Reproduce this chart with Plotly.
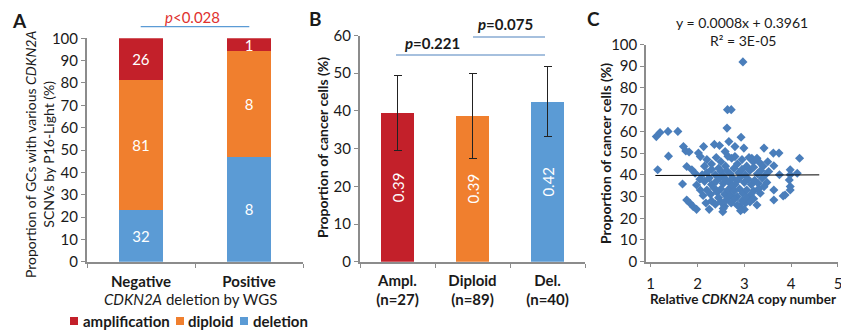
import plotly.graph_objects as go

# ---------------- data ----------------
# Panel A: counts of GCs by CDKN2A SCNV status (P16-Light) per WGS deletion group
groups_A = ["Negative", "Positive"]
amp_counts = [26, 1]
dip_counts = [81, 8]
del_counts = [32, 8]
p_A = "p<0.028"
legend_names = ["amplification", "diploid", "deletion"]

# Panel B: proportion of cancer cells (%) by SCNV group
groups_B = ["Ampl.", "Diploid", "Del."]
n_B = [27, 89, 40]
mean_B = [39.4, 38.7, 42.4]
sd_B = [10.0, 11.3, 9.3]
label_B = ["0.39", "0.39", "0.42"]
p_B = ["0.221", "0.075"]

# Panel C: relative CDKN2A copy number vs proportion of cancer cells (%)
copy_num = [
    1.12, 1.20, 1.37, 1.58, 1.38, 1.15, 1.70, 1.75, 1.82, 2.02, 2.06, 2.13, 2.36, 2.47,
    2.63, 2.64, 2.72, 2.97, 2.67, 2.93, 2.99, 2.80, 2.59, 2.73, 3.16, 3.27,
    3.42, 3.62, 3.74, 4.18, 2.80, 3.19, 3.32, 3.63, 3.98, 1.68,
    1.77, 1.88, 1.95, 1.77, 1.84, 1.91, 1.98, 1.98, 2.06,
    2.25, 2.54, 2.91, 3.02, 3.27, 3.63, 3.83, 3.34,
    3.75, 3.98, 4.13, 3.96, 3.98, 3.98, 3.63, 3.87,
    2.20, 2.30, 2.40, 2.50, 2.60, 2.65, 2.85, 2.95, 3.05, 3.10, 3.40, 3.50, 2.15, 2.45,
    2.20, 2.30, 2.38, 2.50, 2.55, 2.62, 2.70, 2.78, 2.88, 2.95, 3.02, 3.12, 3.20, 3.28, 3.35, 3.45, 3.52, 2.10,
    2.15, 2.25, 2.30, 2.40, 2.48, 2.55, 2.60, 2.68, 2.75, 2.80, 2.86, 2.92, 3.00, 3.08, 3.15, 3.22, 3.30, 3.38, 3.48, 2.05, 2.72,
    2.20, 2.28, 2.35, 2.42, 2.50, 2.58, 2.65, 2.70, 2.78, 2.85, 2.90, 2.97, 3.05, 3.12, 3.20, 3.30, 3.42, 2.12, 2.45,
    2.30, 2.38, 2.50, 2.58, 2.62, 2.72, 2.80, 2.85, 2.95, 3.05, 3.12, 3.20, 2.18, 2.55, 3.00, 2.92,
]
cancer_pct = [
    57.6, 59.5, 60.0, 60.0, 48.6, 42.3, 53.0, 51.0, 50.5, 50.0, 48.4, 53.0, 54.0, 53.5,
    61.5, 70.0, 70.0, 92.0, 55.3, 57.3, 52.3, 53.0, 50.7, 47.6, 47.6, 47.6,
    52.3, 50.0, 50.0, 47.6, 48.4, 46.0, 45.8, 44.2, 42.3, 35.8,
    43.8, 42.3, 40.7, 28.4, 26.9, 25.3, 24.1, 35.3, 33.0,
    24.1, 23.0, 25.3, 26.9, 26.1, 28.4, 30.3, 31.5,
    40.0, 40.0, 40.7, 37.6, 34.6, 33.0, 33.0, 30.7,
    47.0, 45.0, 48.0, 46.0, 44.0, 48.5, 45.0, 47.0, 44.0, 48.0, 44.0, 46.0, 44.0, 43.0,
    41.0, 42.5, 40.0, 41.5, 39.5, 42.0, 40.5, 43.0, 41.0, 42.5, 40.0, 42.0, 43.5, 40.5, 42.0, 40.0, 41.5, 40.0,
    37.0, 38.5, 35.5, 37.0, 38.5, 36.0, 38.0, 36.5, 38.5, 35.5, 37.5, 39.0, 36.5, 38.0, 35.5, 37.5, 36.0, 38.5, 36.5, 38.0, 34.5,
    33.0, 31.0, 34.0, 32.0, 33.5, 31.0, 33.0, 30.5, 32.5, 30.0, 33.5, 31.5, 33.0, 30.5, 32.5, 33.5, 34.5, 30.5, 29.5,
    28.0, 26.5, 27.5, 25.5, 28.5, 27.0, 29.0, 26.0, 28.0, 29.5, 27.5, 29.0, 27.0, 24.5, 24.0, 23.5,
]
trend_slope = 0.0008
trend_intercept = 0.3961
trend_r2 = "3E-05"
trend_x = [1.1, 4.6]

# ---------------- styling ----------------
FONT = "Lato"
RED = "#c3202a"
ORANGE = "#f07f2e"
BLUE = "#5b9bd5"
SCAT = "#4a7ebb"
AXC = "#8c8c8c"
TXT = "#1a1a1a"
W, H = 841, 331


def px(x):
    return x / W


def py(y):
    return 1 - y / H


totals = [a + d + e for a, d, e in zip(amp_counts, dip_counts, del_counts)]
pct = lambda cnt: [c / t * 100 for c, t in zip(cnt, totals)]

fig = go.Figure()

# Panel A stacked bars (bottom to top)
for name, cnt, col in [(legend_names[2], del_counts, BLUE),
                       (legend_names[1], dip_counts, ORANGE),
                       (legend_names[0], amp_counts, RED)]:
    fig.add_trace(go.Bar(
        x=groups_A, y=pct(cnt), name=name, marker=dict(color=col, line=dict(width=0)),
        text=[str(c) for c in cnt], textposition="inside", insidetextanchor="middle",
        textangle=0, constraintext="none",
        textfont=dict(color="white", size=15, family=FONT),
        width=0.4, xaxis="x", yaxis="y", showlegend=False,
    ))

# Panel B bars with error bars
fig.add_trace(go.Bar(
    x=groups_B, y=mean_B, marker=dict(color=[RED, ORANGE, BLUE], line=dict(width=0)),
    error_y=dict(type="data", array=sd_B, color="#222222", thickness=1, width=4),
    text=label_B, textposition="inside", insidetextanchor="middle", textangle=-90,
    constraintext="none", textfont=dict(color="white", size=15, family=FONT),
    width=0.44, xaxis="x2", yaxis="y2", showlegend=False,
))

# Panel C scatter + trend line
fig.add_trace(go.Scatter(
    x=copy_num, y=cancer_pct, mode="markers",
    marker=dict(symbol="diamond", size=7, color=SCAT, line=dict(width=0)),
    xaxis="x3", yaxis="y3", showlegend=False,
))
fig.add_trace(go.Scatter(
    x=trend_x, y=[(trend_slope * x + trend_intercept) * 100 for x in trend_x],
    mode="lines", line=dict(color="black", width=1),
    xaxis="x3", yaxis="y3", showlegend=False,
))

ydom_bot = py(261.7)
common_tick = dict(ticks="outside", ticklen=4, tickcolor=AXC, showline=True,
                   linecolor=AXC, showgrid=False, zeroline=False, automargin=False)

fig.update_layout(
    width=W, height=H, autosize=False,
    margin=dict(l=0, r=0, t=0, b=0, pad=0, autoexpand=False),
    paper_bgcolor="white", plot_bgcolor="white",
    font=dict(family=FONT, color=TXT, size=14),
    barmode="stack",
    showlegend=False,
    xaxis=dict(domain=[px(87), px(303)], anchor="y", type="category", range=[-0.5, 1.5],
               tickson="boundaries", linewidth=2, ticklabelstandoff=5,
               tickfont=dict(size=15, weight="bold"), **common_tick),
    yaxis=dict(domain=[ydom_bot, py(38.3)], anchor="x", range=[0, 100], dtick=10,
               linewidth=2, tickfont=dict(size=15), **common_tick),
    xaxis2=dict(domain=[px(360), px(585)], anchor="y2", type="category", range=[-0.5, 2.5],
                tickson="boundaries", linewidth=2, ticklabelstandoff=4,
                tickvals=groups_B,
                ticktext=[f"{g}<br>(n={n})" for g, n in zip(groups_B, n_B)],
                tickfont=dict(size=15, weight="bold"), **common_tick),
    yaxis2=dict(domain=[ydom_bot, py(35.5)], anchor="x2", range=[0, 60], dtick=10,
                linewidth=2, tickfont=dict(size=15), **common_tick),
    xaxis3=dict(domain=[px(646), px(838)], anchor="y3", range=[0.9, 5.0005], tick0=1, dtick=1,
                linewidth=1.5, ticklabelstandoff=4, ticklabeloverflow="allow",
                tickfont=dict(size=15), **common_tick),
    yaxis3=dict(domain=[ydom_bot, py(44.5)], anchor="x3", range=[0, 100], dtick=10,
                linewidth=1.5, tickfont=dict(size=15), **common_tick),
)

ann = []


def add_text(text, x, y, size=14, bold=False, color=TXT, angle=0, xanchor="center"):
    ann.append(dict(text=text, x=px(x), y=py(y), xref="paper", yref="paper",
                    showarrow=False, xanchor=xanchor, yanchor="middle", textangle=angle,
                    font=dict(size=size, color=color, family=FONT,
                              weight="bold" if bold else "normal")))


add_text("A", 19, 20, size=19, bold=True)
add_text("B", 315, 19, size=19, bold=True)
add_text("C", 593, 19, size=19, bold=True)

add_text("<i>p</i>" + p_A[1:].replace("<", "&lt;"), 192, 17, size=15, color="#e0312e")
add_text(f"<i>p</i>={p_B[0]}", 433, 43, size=15, bold=True)
add_text(f"<i>p</i>={p_B[1]}", 505, 24, size=15, bold=True)

add_text(f"y = {trend_slope}x + {trend_intercept}", 742, 22, size=14)
add_text(f"R² = {trend_r2}", 743, 40, size=14)

add_text("<i>CDKN2A</i> deletion by WGS", 190, 299, size=15)
add_text("Proportion of GCs with various <i>CDKN2A</i><br>SCNVs by P16-Light (%)", 39, 155,
         size=14, angle=-90)
add_text("Proportion of cancer cells (%)", 322, 148, size=14, bold=True, angle=-90)
add_text("Proportion of cancer cells (%)", 605, 154, size=14, bold=True, angle=-90)
add_text("Relative <i>CDKN2A</i> copy number", 743, 299, size=13.5, bold=True)

# legend (swatch + label) for panel A
shapes = []
legend_pos = [(70, 81), (176, 186), (240, 251)]
for name, col, (sx, tx) in zip(legend_names, [RED, ORANGE, BLUE], legend_pos):
    shapes.append(dict(type="rect", xref="paper", yref="paper",
                       x0=px(sx), x1=px(sx + 8), y0=py(325), y1=py(317),
                       fillcolor=col, line=dict(width=0)))
    add_text(name, tx, 321, size=15, bold=True, xanchor="left")

fig.update_layout(annotations=ann)

# significance lines
shapes += [
    dict(type="line", xref="paper", yref="paper", x0=px(140.7), x1=px(249.3),
         y0=py(26.7), y1=py(26.7), line=dict(color=BLUE, width=1.2)),
    dict(type="line", xref="paper", yref="paper", x0=px(396), x1=px(545),
         y0=py(55), y1=py(55), line=dict(color="#4f81bd", width=1.2)),
    dict(type="line", xref="paper", yref="paper", x0=px(473), x1=px(545),
         y0=py(37), y1=py(37), line=dict(color="#4f81bd", width=1.2)),
]
fig.update_layout(shapes=shapes)

fig.write_html(
    "out.html",
    config={"displayModeBar": False},
    post_script="document.body.style.margin='0';document.body.style.overflow='hidden';",
)
